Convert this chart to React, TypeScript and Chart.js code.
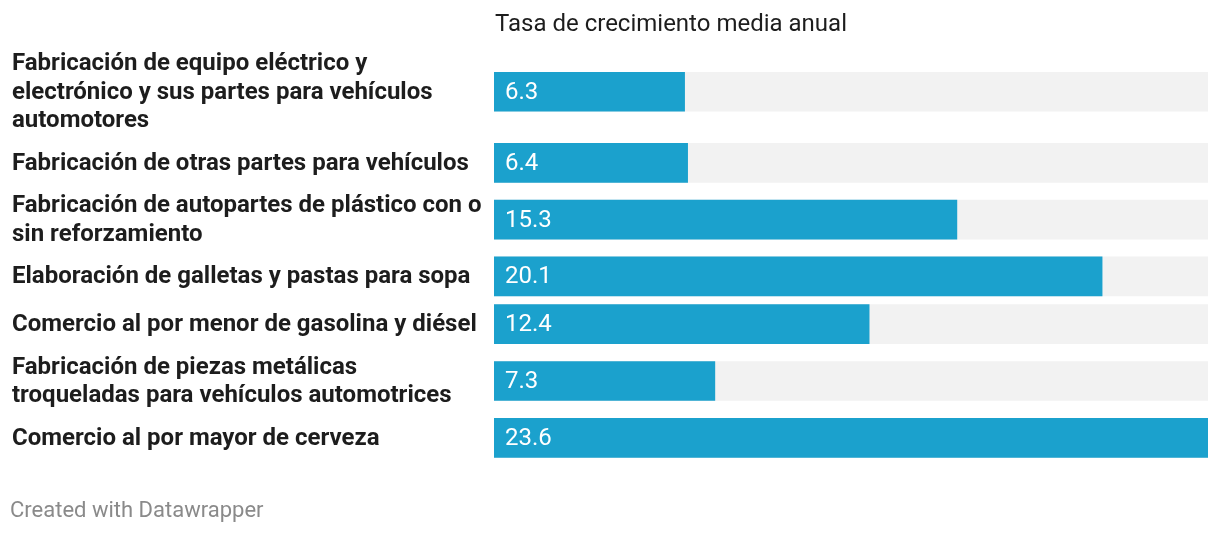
import React, { useEffect, useRef } from "react";
import { Chart, registerables } from "chart.js";

Chart.register(...registerables);

const categories: string[][] = [
  ["Fabricación de equipo eléctrico y", "electrónico y sus partes para vehículos", "automotores"],
  ["Fabricación de otras partes para vehículos"],
  ["Fabricación de autopartes de plástico con o", "sin reforzamiento"],
  ["Elaboración de galletas y pastas para sopa"],
  ["Comercio al por menor de gasolina y diésel"],
  ["Fabricación de piezas metálicas", "troqueladas para vehículos automotrices"],
  ["Comercio al por mayor de cerveza"],
];
const values: number[] = [6.3, 6.4, 15.3, 20.1, 12.4, 7.3, 23.6];
const valueLabels: string[] = ["6.3", "6.4", "15.3", "20.1", "12.4", "7.3", "23.6"];
const title = "Tasa de crecimiento media anual";
const footer = "Created with Datawrapper";

const BAR_COLOR = "#1ba1cd";
const TRACK_COLOR = "#f2f2f2";
const TEXT_COLOR = "#1d1d1d";
const LINE_H = 28.5;
const BAR_H = 39;
const GAP = 8.8;

export default function App() {
  const ref = useRef<HTMLCanvasElement | null>(null);

  useEffect(() => {
    if (!ref.current) return;
    // compute row centers (in pixel-like units) from label line counts
    const centers: number[] = [];
    let cursor = 0;
    categories.forEach((lines) => {
      const h = Math.max(BAR_H, lines.length * LINE_H);
      centers.push(cursor + h / 2);
      cursor += h + GAP;
    });
    const maxV = Math.max(...values);
    const chartTop = 49;
    const chartBottom = 468;

    const labelsPlugin = {
      id: "dwLabels",
      afterDatasetsDraw(chart: any) {
        const ctx = chart.ctx;
        const yScale = chart.scales.y;
        const xScale = chart.scales.x;
        ctx.save();
        ctx.textBaseline = "middle";
        // category labels
        ctx.font = "bold 24px Roboto";
        ctx.fillStyle = TEXT_COLOR;
        ctx.textAlign = "left";
        categories.forEach((lines, i) => {
          const cy = yScale.getPixelForValue(centers[i]);
          const n = lines.length;
          lines.forEach((ln, j) => {
            const y = cy + (j - (n - 1) / 2) * LINE_H;
            ctx.fillText(ln, 12, y + 1);
          });
        });
        // value labels
        ctx.font = "24px Roboto";
        ctx.fillStyle = "#ffffff";
        values.forEach((v, i) => {
          const cy = yScale.getPixelForValue(centers[i]);
          ctx.fillText(valueLabels[i], xScale.getPixelForValue(0) + 11, cy + 1);
        });
        // title
        ctx.font = "24px Roboto";
        ctx.fillStyle = TEXT_COLOR;
        ctx.fillText(title, xScale.getPixelForValue(0) + 1, 25);
        // footer
        ctx.font = "22px Roboto";
        ctx.fillStyle = "#8a8a8a";
        ctx.fillText(footer, 10, 511);
        ctx.restore();
      },
    };

    const chart = new Chart(ref.current, {
      type: "bar",
      data: {
        datasets: [
          {
            data: values.map((v, i) => ({ x: v, y: centers[i] })),
            backgroundColor: BAR_COLOR,
            barThickness: BAR_H,
            grouped: false,
            order: 1,
          } as any,
          {
            data: values.map((_, i) => ({ x: maxV, y: centers[i] })),
            backgroundColor: TRACK_COLOR,
            barThickness: BAR_H,
            grouped: false,
            order: 2,
          } as any,
        ],
      },
      options: {
        indexAxis: "y",
        responsive: false,
        animation: false,
        devicePixelRatio: 1,
        layout: { padding: { left: 494, right: 12, top: chartTop, bottom: 534 - chartBottom } },
        plugins: { legend: { display: false }, tooltip: { enabled: false }, title: { display: false } },
        scales: {
          x: { type: "linear", min: 0, max: maxV, display: false, offset: false },
          y: { type: "linear", min: 0, max: chartBottom - chartTop, reverse: true, display: false, offset: false },
        },
      } as any,
      plugins: [labelsPlugin],
    });
    return () => chart.destroy();
  }, []);

  return (
    <div style={{ position: "fixed", left: 0, top: 0, width: 1220, height: 534, background: "#fff" }}>
      <canvas ref={ref} width={1220} height={534} style={{ width: 1220, height: 534, display: "block" }} />
    </div>
  );
}
